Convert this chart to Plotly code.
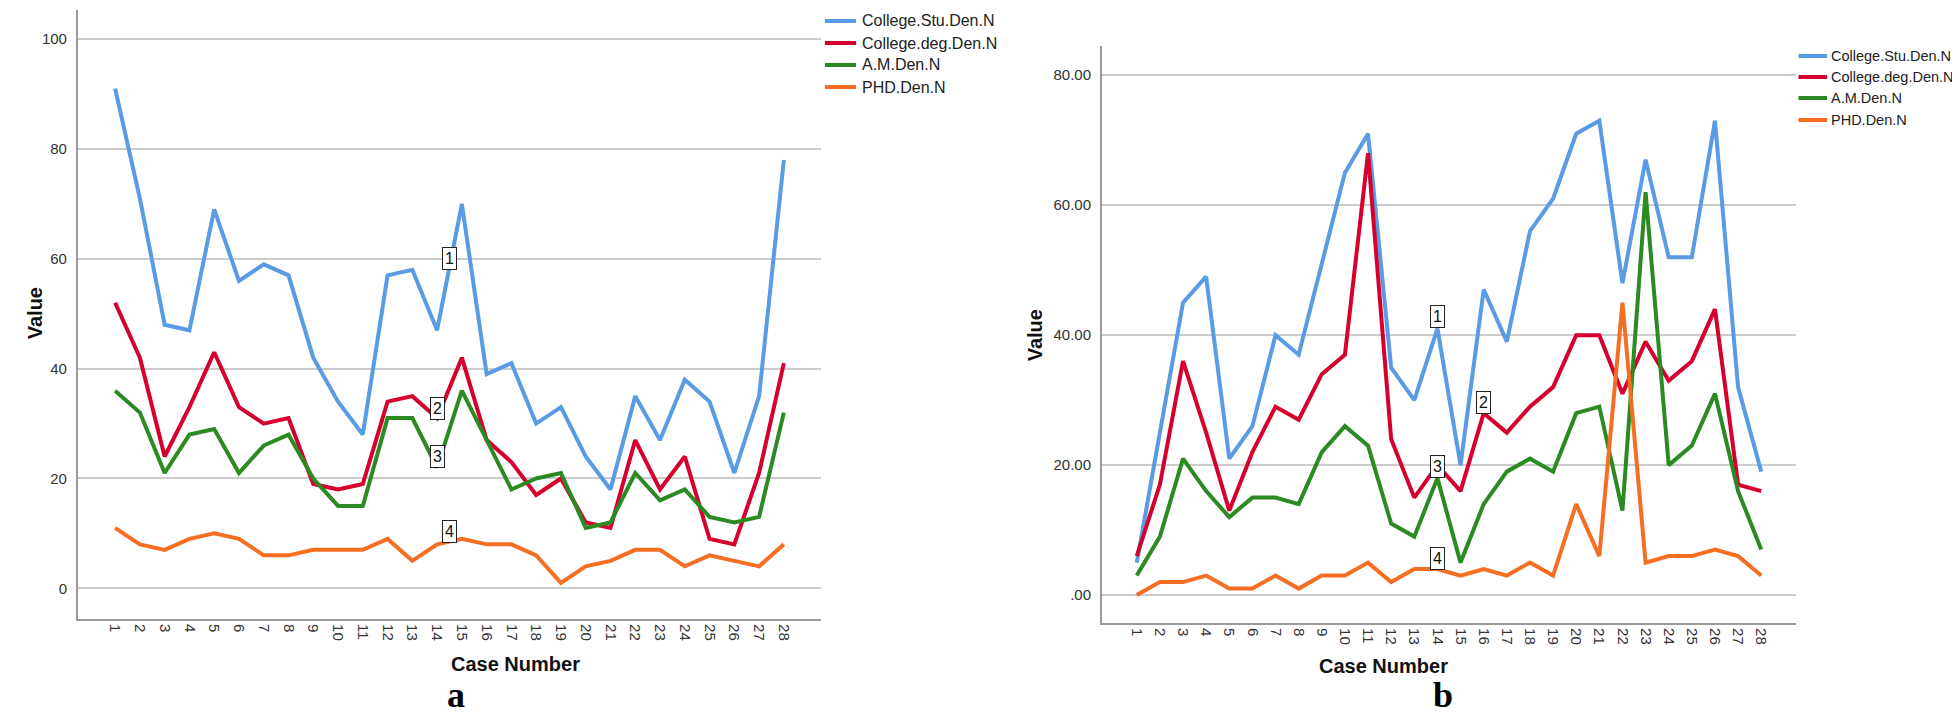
import plotly.graph_objects as go

cases = list(range(1, 29))
case_labels = [str(c) for c in cases]
series_names = ["College.Stu.Den.N", "College.deg.Den.N", "A.M.Den.N", "PHD.Den.N"]
series_colors = ["#5a9be6", "#d6002e", "#2b8a22", "#f56e22"]

# panel a
a_stu = [91, 71, 48, 47, 69, 56, 59, 57, 42, 34, 28, 57, 58, 47, 70, 39, 41, 30, 33, 24, 18, 35, 27, 38, 34, 21, 35, 78]
a_deg = [52, 42, 24, 33, 43, 33, 30, 31, 19, 18, 19, 34, 35, 31, 42, 27, 23, 17, 20, 12, 11, 27, 18, 24, 9, 8, 21, 41]
a_am = [36, 32, 21, 28, 29, 21, 26, 28, 20, 15, 15, 31, 31, 22, 36, 27, 18, 20, 21, 11, 12, 21, 16, 18, 13, 12, 13, 32]
a_phd = [11, 8, 7, 9, 10, 9, 6, 6, 7, 7, 7, 9, 5, 8, 9, 8, 8, 6, 1, 4, 5, 7, 7, 4, 6, 5, 4, 8]

# panel b
b_stu = [5, 25, 45, 49, 21, 26, 40, 37, 51, 65, 71, 35, 30, 41, 20, 47, 39, 56, 61, 71, 73, 48, 67, 52, 52, 73, 32, 19]
b_deg = [6, 17, 36, 25, 13, 22, 29, 27, 34, 37, 68, 24, 15, 20, 16, 28, 25, 29, 32, 40, 40, 31, 39, 33, 36, 44, 17, 16]
b_am = [3, 9, 21, 16, 12, 15, 15, 14, 22, 26, 23, 11, 9, 18, 5, 14, 19, 21, 19, 28, 29, 13, 62, 20, 23, 31, 16, 7]
b_phd = [0, 2, 2, 3, 1, 1, 3, 1, 3, 3, 5, 2, 4, 4, 3, 4, 3, 5, 3, 14, 6, 45, 5, 6, 6, 7, 6, 3]

a_yticks = [0, 20, 40, 60, 80, 100]
a_yticktext = ["0", "20", "40", "60", "80", "100"]
b_yticks = [0, 20, 40, 60, 80]
b_yticktext = [".00", "20.00", "40.00", "60.00", "80.00"]

# line label boxes (label, case, value)
a_marks = [("1", 14.5, 60), ("2", 14, 32.8), ("3", 14, 24), ("4", 14.5, 10.4)]
b_marks = [("1", 14, 42.8), ("2", 16, 29.7), ("3", 14, 19.8), ("4", 14, 5.7)]

FONT = "Liberation Sans, Arial, sans-serif"

fig = go.Figure()

for name, vals, col in zip(series_names, [a_stu, a_deg, a_am, a_phd], series_colors):
    fig.add_trace(go.Scatter(x=cases, y=vals, name=name, mode="lines",
                             line=dict(color=col, width=4), xaxis="x", yaxis="y"))

for name, vals, col in zip(series_names, [b_stu, b_deg, b_am, b_phd], series_colors):
    fig.add_trace(go.Scatter(x=cases, y=vals, name=name, mode="lines",
                             line=dict(color=col, width=4), xaxis="x2", yaxis="y2"))

xax = dict(tickmode="array", tickvals=cases, ticktext=case_labels, tickangle=90,
           showgrid=False, zeroline=False, showline=True, linecolor="#9a9a9a", linewidth=2,
           ticks="", automargin=False,
           tickfont=dict(family=FONT, size=15, color="#333"), range=[-0.5, 29.5])
yax = dict(showgrid=True, gridcolor="#cccccc", gridwidth=1.5, zeroline=False,
           showline=True, linecolor="#9a9a9a", linewidth=2, ticks="", automargin=False,
           ticklabelstandoff=6, tickfont=dict(family=FONT, size=15, color="#333"))

annotations = []
for lab, cx, cy in a_marks:
    annotations.append(dict(x=cx, y=cy, xref="x", yref="y", text=lab, showarrow=False,
                            font=dict(family=FONT, size=16, color="#111"),
                            bgcolor="white", bordercolor="#222", borderwidth=1, borderpad=2))
for lab, cx, cy in b_marks:
    annotations.append(dict(x=cx, y=cy, xref="x2", yref="y2", text=lab, showarrow=False,
                            font=dict(family=FONT, size=16, color="#111"),
                            bgcolor="white", bordercolor="#222", borderwidth=1, borderpad=2))

title_font = dict(family=FONT, size=20, color="#111")
serif = dict(family="Liberation Serif, Times New Roman, serif", size=36, color="#000")
annotations += [
    dict(x=0.0072, y=0.572, xref="paper", yref="paper", text="<b>Value</b>", textangle=-90,
         showarrow=False, font=title_font),
    dict(x=0.524, y=0.541, xref="paper", yref="paper", text="<b>Value</b>", textangle=-90,
         showarrow=False, font=title_font),
    dict(x=0.225, y=0.062, xref="paper", yref="paper", text="<b>Case Number</b>",
         showarrow=False, font=title_font),
    dict(x=0.7357, y=0.059, xref="paper", yref="paper", text="<b>Case Number</b>",
         showarrow=False, font=title_font),
    dict(x=0.223, y=0.037, xref="paper", yref="paper", yanchor="middle", text="<b>a</b>",
         showarrow=False, font=serif),
    dict(x=0.7383, y=0.037, xref="paper", yref="paper", yanchor="middle", text="<b>b</b>",
         showarrow=False, font=serif),
]

# hand-drawn legends (one per panel)
shapes = []
legend_spots = [
    (0.4168, 0.4327, 0.4345, 16, [0.9818, 0.9509, 0.9201, 0.8892]),
    (0.9135, 0.9281, 0.9292, 14.5, [0.9327, 0.9032, 0.8738, 0.8429]),
]
for x0, x1, xt, fsize, rows in legend_spots:
    for name, col, ry in zip(series_names, series_colors, rows):
        shapes.append(dict(type="line", xref="paper", yref="paper", x0=x0, x1=x1, y0=ry, y1=ry,
                           line=dict(color=col, width=4)))
        annotations.append(dict(x=xt, y=ry, xref="paper", yref="paper", xanchor="left",
                                yanchor="middle", text=name, showarrow=False,
                                font=dict(family=FONT, size=fsize, color="#222")))

fig.update_layout(
    width=1960, height=713,
    margin=dict(l=0, r=0, t=0, b=0, autoexpand=False),
    paper_bgcolor="white", plot_bgcolor="white",
    xaxis=dict(xax, domain=[0.0357, 0.4148], anchor="y"),
    yaxis=dict(yax, domain=[0.143, 0.997], anchor="x", range=[-5.6, 105.3],
               tickmode="array", tickvals=a_yticks, ticktext=a_yticktext),
    xaxis2=dict(xax, domain=[0.5582, 0.9122], anchor="y2"),
    yaxis2=dict(yax, domain=[0.1374, 0.9467], anchor="x2", range=[-4.3, 84.5],
                tickmode="array", tickvals=b_yticks, ticktext=b_yticktext),
    showlegend=False,
    shapes=shapes,
    annotations=annotations,
)

fig.write_html("out.html")
